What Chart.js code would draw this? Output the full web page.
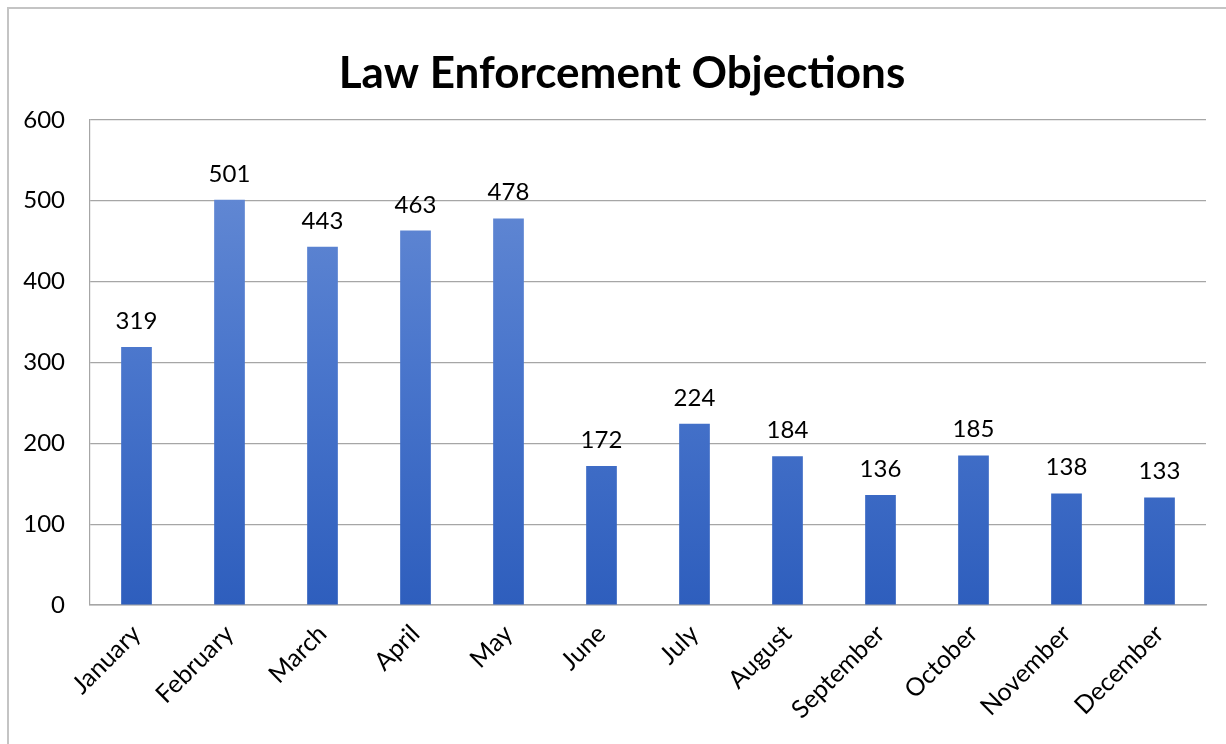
<!DOCTYPE html>
<html><head><meta charset="utf-8">
<script src="https://cdn.jsdelivr.net/npm/chart.js@4/dist/chart.umd.min.js"></script>
<style>
html,body{margin:0;padding:0;background:#fff;overflow:hidden;}
#frame{position:absolute;left:7px;top:7px;width:1240px;height:760px;border-left:2px solid #c4c4c4;border-top:2px solid #c4c4c4;box-sizing:border-box;}
#wrap{position:absolute;left:0;top:0;width:1226px;height:744px;overflow:hidden;}
</style></head><body>
<div id="frame"></div>
<div id="wrap"><canvas id="c" width="1226" height="744"></canvas></div>
<script>
const titleText = "Law Enforcement Objections";
const months = ["January","February","March","April","May","June","July","August","September","October","November","December"];
const objections = [319,501,443,463,478,172,224,184,136,185,138,133];
const yTicks = [0,100,200,300,400,500,600];

const FONT = "Lato, 'Open Sans', sans-serif";

const valueLabels = {
  id:'valueLabels',
  afterDatasetsDraw(chart){
    const ctx = chart.ctx;
    const meta = chart.getDatasetMeta(0);
    ctx.save();
    ctx.font = "24px " + FONT;
    ctx.fillStyle = "#000";
    ctx.textAlign = "center";
    ctx.textBaseline = "alphabetic";
    meta.data.forEach((bar,i)=>{
      ctx.fillText(String(chart.data.datasets[0].data[i]), bar.x, bar.y - 18);
    });
    ctx.restore();
  }
};

// centre the title over the frame rather than over the whole canvas
const titleShift = {
  id:'titleShift',
  afterLayout(chart){
    const tb = chart.titleBlock;
    if(tb){ tb.left = 38; tb.right = chart.chartArea.right; }
  }
};

function grad(context){
  const chart = context.chart;
  const area = chart.chartArea;
  if(!area) return '#4472c4';
  const el = context.element;
  const top = el && el.y !== undefined ? el.y : area.top;
  const bottom = el && el.base !== undefined ? el.base : area.bottom;
  if(!isFinite(top) || !isFinite(bottom) || top===bottom) return '#4472c4';
  const g = chart.ctx.createLinearGradient(0, top, 0, bottom);
  g.addColorStop(0, '#6b8fd6');
  g.addColorStop(0.5, '#4a76cc');
  g.addColorStop(1, '#2e5ebd');
  return g;
}

new Chart(document.getElementById('c'), {
  type:'bar',
  data:{labels:months, datasets:[{data:objections, backgroundColor:grad, barPercentage:0.33, categoryPercentage:1.0}]},
  options:{
    responsive:false, animation:false,
    layout:{padding:{left:0,right:20,top:0,bottom:0}},
    plugins:{
      legend:{display:false},
      tooltip:{enabled:false},
      title:{display:true,text:titleText,color:'#000',font:{family:FONT,size:44,weight:'bold'},padding:{top:47,bottom:20}}
    },
    scales:{
      x:{
        grid:{display:false, drawTicks:false},
        border:{display:true,color:'#a6a6a6',width:1.5},
        ticks:{color:'#000',font:{family:FONT,size:25},minRotation:45,maxRotation:45,padding:14},
        afterFit(s){ s.paddingLeft = 0; s.paddingRight = 0; s.height = 139; }
      },
      y:{
        min:0,max:600,
        afterBuildTicks(axis){axis.ticks = yTicks.map(v=>({value:v}));},
        grid:{color:'#a6a6a6',lineWidth:1.2,drawTicks:false},
        border:{display:true,color:'#a6a6a6',width:1.2},
        ticks:{color:'#000',font:{family:FONT,size:24},padding:25},
        afterFit(s){ s.width = 90; s.paddingTop = 0; s.paddingBottom = 0; }
      }
    }
  },
  plugins:[valueLabels, titleShift]
});
</script>
</body></html>
